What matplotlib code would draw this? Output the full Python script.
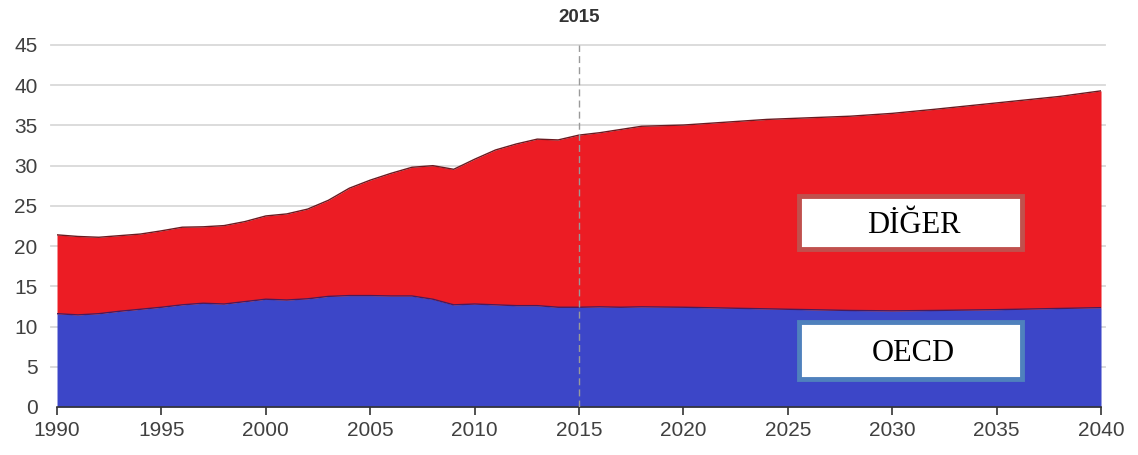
import matplotlib
matplotlib.use("Agg")
import matplotlib.pyplot as plt
from matplotlib.patches import Rectangle

years = [1990, 1991, 1992, 1993, 1994, 1995, 1996, 1997, 1998, 1999,
         2000, 2001, 2002, 2003, 2004, 2005, 2006, 2007, 2008, 2009,
         2010, 2011, 2012, 2013, 2014, 2015, 2016, 2017, 2018, 2020,
         2022, 2024, 2025, 2026, 2028, 2030, 2032, 2035, 2038, 2040]
oecd = [11.6, 11.45, 11.6, 11.9, 12.15, 12.4, 12.7, 12.9, 12.8, 13.1,
        13.4, 13.3, 13.45, 13.75, 13.85, 13.85, 13.8, 13.8, 13.4, 12.7,
        12.8, 12.7, 12.6, 12.6, 12.4, 12.4, 12.45, 12.4, 12.45, 12.4,
        12.3, 12.2, 12.15, 12.1, 12.0, 11.95, 12.0, 12.1, 12.25, 12.35]
total = [21.4, 21.2, 21.1, 21.3, 21.5, 21.9, 22.35, 22.4, 22.55, 23.05,
         23.75, 24.0, 24.6, 25.7, 27.2, 28.2, 29.05, 29.8, 30.0, 29.55,
         30.8, 31.95, 32.7, 33.3, 33.2, 33.8, 34.1, 34.5, 34.9, 35.05,
         35.4, 35.75, 35.85, 35.95, 36.15, 36.5, 37.0, 37.8, 38.6, 39.3]
yticks = [0, 5, 10, 15, 20, 25, 30, 35, 40, 45]
xticks = [1990, 1995, 2000, 2005, 2010, 2015, 2020, 2025, 2030, 2035, 2040]
marker_year = 2015
labels = ["DİĞER", "OECD"]

fig = plt.figure(figsize=(11.38, 4.55), dpi=100)
ax = fig.add_axes([0.0501, 0.1055, 0.9174, 0.7956])

for t in yticks[1:]:
    ax.axhline(t, color="#d9d9d9", lw=1.3, zorder=0, xmin=-0.006, xmax=1.004, clip_on=False)

ax.fill_between(years, 0, oecd, color="#3c46c8", lw=0, zorder=1)
ax.fill_between(years, oecd, total, color="#ec1c24", lw=0, zorder=1)
ax.plot(years, oecd, color="#4a1a5a", lw=1.0, zorder=2)
ax.plot(years, total, color="#6a1a20", lw=1.0, zorder=2)

ax.axvline(marker_year, color="#9a9a9a", lw=1.0, ls=(0, (5, 3)), zorder=3)

ax.set_xlim(1990, 2040)
ax.set_ylim(0, 45)
ax.set_xticks(xticks)
ax.set_yticks(yticks)
ax.tick_params(axis="x", direction="out", length=6, width=1.2, color="#333333",
               labelsize=15, labelcolor="#404040", pad=4)
ax.tick_params(axis="y", length=0, labelsize=15, labelcolor="#404040", pad=14)
for s in ["top", "right", "left"]:
    ax.spines[s].set_visible(False)
ax.spines["bottom"].set_color("#333333")
ax.spines["bottom"].set_linewidth(1.2)
for lab in ax.get_xticklabels() + ax.get_yticklabels():
    lab.set_fontfamily(["Liberation Sans", "DejaVu Sans"])

ax.text(marker_year, 48.4, str(marker_year), ha="center", va="center",
        fontsize=13.5, fontweight="bold", color="#333333",
        family=["Liberation Sans", "DejaVu Sans"])

boxes = [(0.711, 0.437, 0.213, 0.147, "#c0504d"), (0.711, 0.077, 0.213, 0.159, "#4f81bd")]
for (x0, y0, w, h, ec), lab in zip(boxes, labels):
    ax.add_patch(Rectangle((x0, y0), w, h, transform=ax.transAxes, facecolor="white",
                           edgecolor=ec, lw=3.5, zorder=5))
    ax.text(x0 + w / 2 + 0.003, y0 + h / 2 - 0.008, lab, transform=ax.transAxes,
            ha="center", va="center", fontsize=22, color="black",
            family=["Liberation Serif", "DejaVu Serif"], zorder=6)

fig.savefig("out.png", dpi=100)
